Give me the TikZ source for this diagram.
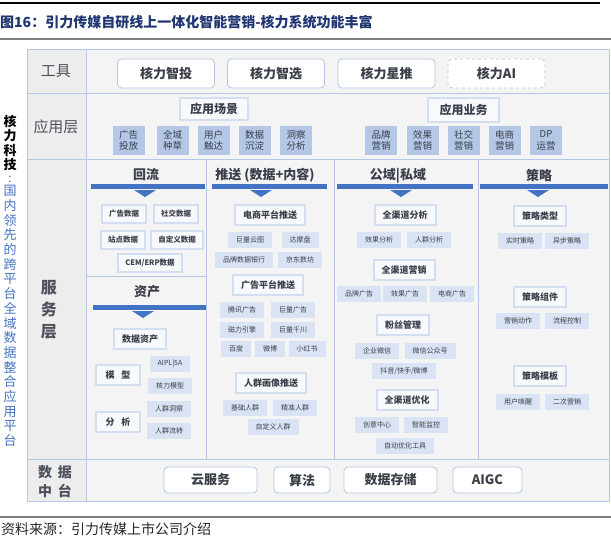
\documentclass[tikz,border=0pt]{standalone}
\usepackage{fontspec}
\setmainfont{Noto Sans CJK SC}
\definecolor{tline}{HTML}{B4C7E7}
\definecolor{tfill}{HTML}{F4F4F4}
\definecolor{lfill}{HTML}{EDEDED}
\definecolor{appfill}{HTML}{B4C7E7}
\definecolor{itemfill}{HTML}{DAE3F3}
\definecolor{hline}{HTML}{D3DEF0}
\definecolor{hfill}{HTML}{F8F9FC}
\definecolor{barblue}{HTML}{4472C4}
\definecolor{txt}{HTML}{3A3F4A}
\definecolor{titleblue}{HTML}{1F3470}
\newcommand{\fsz}[2]{\fontsize{#1}{#2}\selectfont}
\tikzset{
  tool/.style={draw=tline,fill=white,rounded corners=4pt,line width=0.8pt,minimum height=29pt,font=\fsz{13}{13}\bfseries,text=txt}, % top / bottom row
  hbox/.style={draw=hline,fill=hfill,line width=2pt,inner xsep=8pt,minimum height=20pt,font=\fsz{9}{9}\bfseries,text=txt},   % outlined sub-heading
  rbox/.style={hbox,inner xsep=7pt,minimum height=18pt,font=\fsz{7.5}{7.5}\bfseries},                                      % small outlined item
  sbox/.style={fill=itemfill,inner xsep=8pt,minimum height=16pt,font=\fsz{7}{7},text=txt},                                 % filled item
  appbox/.style={fill=appfill,minimum width=32pt,minimum height=29pt,inner sep=0pt,align=center,font=\fsz{9.5}{11.5},text=txt},
  colhead/.style={font=\fsz{13}{13}\bfseries,text=txt},
  rowlab/.style={font=\fsz{15}{15},text=txt!90},
  grid/.style={draw=tline,line width=1pt},
}
\newcommand{\headbar}[4]{% x1, x2, y, triangle centre x
  \fill[barblue] (#1,#3) rectangle (#2,#3+5);
  \fill[barblue] (#4-11,#3+6) -- (#4+11,#3+6) -- (#4,#3+13) -- cycle;
}

\begin{document}
\begin{tikzpicture}[x=1pt,y=-1pt]
  \useasboundingbox (0,0) rectangle (611,546);
  % title and source
  \draw[line width=1.5pt] (0,3) -- (600,3);
  \node[anchor=west,inner sep=0pt,font=\fsz{14}{14}\bfseries,text=titleblue] (title) at (0,22) {图16：引力传媒自研线上一体化智能营销-核力系统功能丰富};
  \draw[gray,line width=1.5pt] (0,39) -- (611,39);
  \draw[gray,line width=1.5pt] (0,517) -- (611,517);
  \node[anchor=west,inner sep=0pt,font=\fsz{14}{14},text=black!85] (source) at (1,529) {资料来源：引力传媒上市公司介绍};

  % side slogan
  \node[align=center,inner sep=0pt,font=\fsz{13}{14.5}\bfseries] (brand) at (10,143) {核\\力\\科\\技};
  \node[inner sep=0pt,font=\fsz{12}{12},text=barblue] (colon) at (10,179) {:};
  \node[align=center,inner sep=0pt,font=\fsz{13}{14.7},text=barblue] (slogan) at (10,316)
    {国\\内\\领\\先\\的\\跨\\平\\台\\全\\域\\数\\据\\整\\合\\应\\用\\平\\台};

  % table
  \fill[tfill] (27,49) rectangle (609,501);
  \fill[lfill] (27,49) rectangle (86,501);
  \draw[grid] (27,49) rectangle (609,501);
  \draw[grid] (86,49) -- (86,501);
  \foreach \y in {93,159,459} \draw[grid] (27,\y) -- (609,\y);
  \foreach \x in {206,334,478} \draw[grid] (\x,159) -- (\x,459);
  \draw[grid] (86,276) -- (206,276);

  % row labels
  \node[rowlab] (lab1) at (56,71) {工具};
  \node[rowlab] (lab2) at (56,127) {应用层};
  \node[align=center,font=\fsz{16}{22}\bfseries,text=txt!90] (lab3) at (49,310) {服\\务\\层};
  \node[align=center,font=\fsz{14}{19}\bfseries,text=txt!90] (lab4) at (55,481.5) {数\hspace{6pt}据\\中\hspace{6pt}台};

  % tools
  \foreach \n/\x/\t in {t1/166/核力智投,t2/276/核力智选,t3/386.5/核力星推}
    \node[tool,minimum width=97pt] (\n) at (\x,73.5) {\t};
  \node[tool,minimum width=97pt,dashed] (t4) at (496.5,73.5) {核力AI};

  % application layer
  \node[hbox,minimum width=68pt,minimum height=22pt,font=\fsz{12}{12}\bfseries] (scene) at (214,109) {应用场景};
  \node[hbox,minimum width=71pt,minimum height=24pt,font=\fsz{12}{12}\bfseries] (biz) at (463.5,110) {应用业务};
  \foreach \n/\x/\t in {a1/128.5/广告\\投放,a2/172.5/全域\\种草,a3/213.5/用户\\触达,a4/254.5/数据\\沉淀,a5/296/洞察\\分析,
                        a6/381/品牌\\营销,a7/422.5/效果\\营销,a8/463.5/社交\\营销,a9/504.5/电商\\营销,a10/546/DP\\运营}
    \node[appbox] (\n) at (\x,140.5) {\t};

  % service layer headings
  \node[colhead] (back) at (146,175) {回流};
  \headbar{91}{205}{184}{145}
  \node[colhead] (push) at (265,175) {推送 (数据+内容)};
  \headbar{212}{327}{184}{261}
  \node[colhead] (domain) at (398,176) {公域|私域};
  \headbar{337}{473}{184}{401}
  \node[colhead] (plan) at (539,176) {策略};
  \headbar{480}{608}{184}{538}
  \node[colhead] (asset) at (147,292) {资产};
  \headbar{93}{206}{305}{143}

  % sub-headings
  \foreach \n/\x/\y/\t in {h1/140/339/数据资产,h2/270/215/电商平台推送,h3/268/285/广告平台推送,h4/271/383/人群画像推送,
                           h5/405/215/全渠道分析,h6/404/270/全渠道营销,h7/403/325/粉丝管理,h8/407/400/全渠道优化,
                           h9/540/216/策略类型,h10/540/297/策略组件,h11/540/376/策略模板}
    \node[hbox] (\n) at (\x,\y) {\t};
  \node[hbox,minimum width=44pt] (model) at (118,375) {模\hspace{7pt}型};
  \node[hbox,minimum width=44pt] (anal) at (118,422) {分\hspace{7pt}析};

  % items
  \foreach \n/\x/\y/\t in {r1/124/214/广告数据,r2/176/214/社交数据,r3/123/240/站点数据,r4/177/240/自定义数据,r5/150/263/CEM\slash ERP数据}
    \node[rbox] (\n) at (\x,\y) {\t};
  \foreach \n/\x/\y/\t in {s1/170/364/AIPL|5A,s2/170/386/核力模型,s3/169/409/人群洞察,s4/169/431/人群流转,
                           s5/250/240/巨量云图,s6/300/240/达摩盘,s7/244/260/品牌数据银行,s8/300/260/京东数坊,
                           s9/242/310/腾讯广告,s10/293/310/巨量广告,s11/242/330/磁力引擎,s12/293/330/巨量千川,
                           s13/236/349/百度,s14/270/349/微博,s15/307/349/小红书,
                           s16/245/408/基础人群,s17/295/408/精准人群,s18/273/427/自定义人群,
                           s19/379/240/效果分析,s20/429/240/人群分析,s21/359/294/品牌广告,s22/405/294/效果广告,s23/452/294/电商广告,
                           s24/377/351/企业微信,s25/430/351/微信公众号,s26/404/371/抖音\slash 快手\slash 微博,
                           s27/377/425/创意中心,s28/426/425/智能监控,s29/405/446/自动优化工具,
                           s30/520/241/实时策略,s31/567/241/异步策略,s32/518/321/营销动作,s33/567/321/流程控制,
                           s34/518/402/用户唤醒,s35/567/402/二次营销}
    \node[sbox] (\n) at (\x,\y) {\t};

  % data platform
  \foreach \n/\x/\w/\t in {d1/210.5/93pt/云服务,d2/302/56pt/算法,d3/390.5/93pt/数据存储,d4/487.5/69pt/AIGC}
    \node[tool,minimum width=\w,minimum height=26pt] (\n) at (\x,480) {\t};
\end{tikzpicture}
\end{document}
